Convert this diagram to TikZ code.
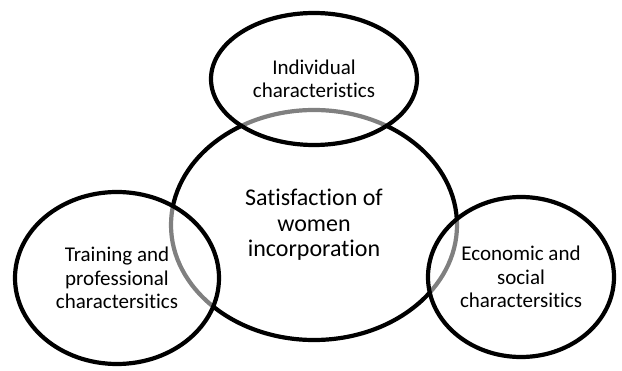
\documentclass[tikz,border=0pt]{standalone}
\usepackage{fontspec}
\setmainfont{Carlito}[Ligatures={NoCommon}]
\usepackage{tikz}
\usetikzlibrary{shapes.geometric}

\begin{document}
\begin{tikzpicture}[x=1pt,y=1pt,
	core/.style={ellipse,draw,line width=4.2pt,inner sep=0pt,align=center,font=\fontsize{24}{25.5}\selectfont},
	factor/.style={ellipse,draw,line width=4.2pt,fill=white,fill opacity=.5,draw opacity=1,text opacity=1,inner sep=0pt,align=center,font=\fontsize{21}{23.5}\selectfont}]
	\useasboundingbox (0,0) rectangle (622,370);
	\node[core,minimum width=286pt,minimum height=230pt] (satisf) at (314,145) {Satisfaction of\\women\\incorporation};
	\node[factor,minimum width=206pt,minimum height=132pt] (indiv) at (314,291) {Individual\\characteristics};
	\node[factor,minimum width=204pt,minimum height=172pt] (train) at (117,92) {Training and\\professional\\charactersitics};
	\node[factor,minimum width=186pt,minimum height=160pt] (econ) at (521,93) {Economic and\\social\\charactersitics};
\end{tikzpicture}
\end{document}
